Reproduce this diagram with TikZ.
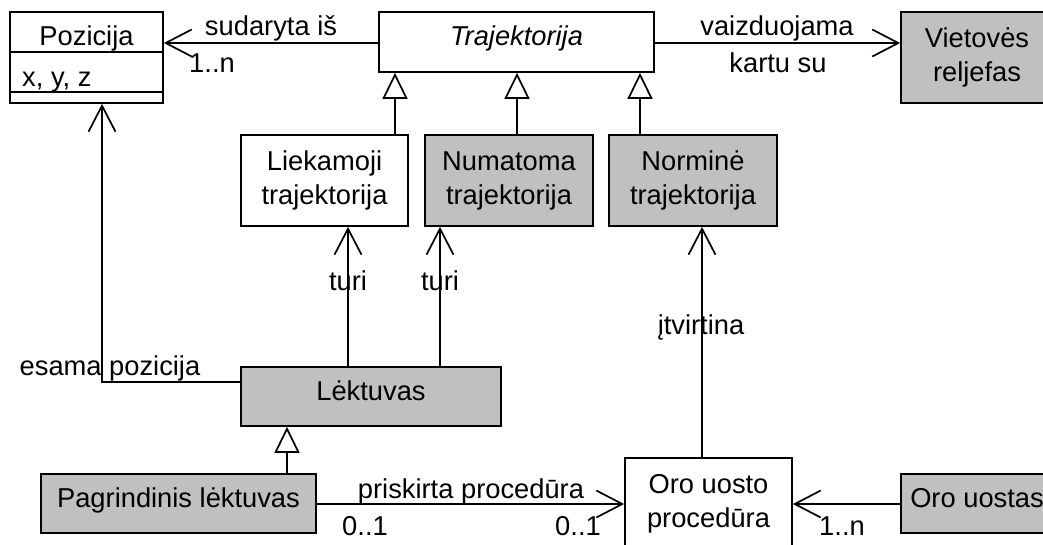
\documentclass[tikz,border=0pt]{standalone}
\usepackage{fontspec}
\setmainfont{Liberation Sans}
\usetikzlibrary{arrows.meta}
\definecolor{boxgray}{RGB}{192,192,192}
\newcommand\fs{\fontsize{27.3}{34}\selectfont}
\tikzset{
  box/.style={draw, line width=1.7pt, inner sep=0pt, align=center, font=\fs, rectangle},
  gbox/.style={box, fill=boxgray},
  oneline/.style={text height=19.5pt, text depth=12.5pt},
  assoc/.style={draw, line width=1.7pt, -{Straight Barb[length=26pt,width=27pt,line width=1.7pt]}},
  gen/.style={draw, line width=1.7pt, -{Triangle[open,length=26pt,width=25pt,fill=white,line width=1.7pt]}},
  lbl/.style={font=\fs, inner sep=0pt}
}
\begin{document}
\begin{tikzpicture}[x=1pt,y=-1pt]
\useasboundingbox (0,0) rectangle (1043,544);
% boxes
\node[box, minimum width=153pt, minimum height=91pt] (poz) at (86.5,57.5) {};
\node[lbl, anchor=base] (pozt) at (86.5,45) {Pozicija};
\node[lbl, anchor=base west] (poza) at (22,86) {x, y, z};
\coordinate (d1) at (0,52);
\coordinate (d2) at (0,92);
\draw[line width=1.7pt] (poz.west |- d1) -- (poz.east |- d1);
\draw[line width=1.7pt] (poz.west |- d2) -- (poz.east |- d2);

\node[box, oneline, minimum width=275pt, minimum height=60pt, font=\fs\itshape] (traj) at (516.5,42) {Trajektorija};
\node[gbox, minimum width=152pt, minimum height=91pt] (viet) at (977,57.5) {Vietovės\\reljefas};
\node[box, minimum width=167pt, minimum height=91pt] (liek) at (324.5,180.5) {Liekamoji\\trajektorija};
\node[gbox, minimum width=168pt, minimum height=91pt] (num) at (509,180.5) {Numatoma\\trajektorija};
\node[gbox, minimum width=168pt, minimum height=91pt] (norm) at (693,180.5) {Norminė\\trajektorija};
\node[gbox, oneline, minimum width=260pt, minimum height=59pt] (lekt) at (371,396.5) {Lėktuvas};
\node[gbox, oneline, minimum width=275pt, minimum height=59pt] (pagr) at (178.5,503.5) {Pagrindinis lėktuvas};
\node[box, minimum width=167pt, minimum height=91pt] (oup) at (708.5,503.5) {Oro uosto\\procedūra};
\node[gbox, oneline, minimum width=152pt, minimum height=59pt] (ous) at (977,503.5) {Oro uostas};

% helper coordinates
\coordinate (a1) at (0,43);
\coordinate (g1) at (395,0);
\coordinate (g2) at (517,0);
\coordinate (g3) at (640,0);
\coordinate (t1) at (348,0);
\coordinate (t2) at (440,0);
\coordinate (ep) at (102,382);
\coordinate (gp) at (287,0);
\coordinate (it) at (702,0);
\coordinate (a2) at (0,504);

% associations top
\draw[assoc] (traj.west |- a1) -- (poz.east |- a1);
\node[lbl] (l1) at (271,28) {sudaryta iš};
\node[lbl, anchor=base] (l2) at (212,72) {1..n};
\draw[assoc] (traj.east |- a1) -- (viet.west |- a1);
\node[lbl] (l3) at (777,28) {vaizduojama};
\node[lbl] (l4) at (778,63) {kartu su};

% generalizations
\draw[gen] (liek.north -| g1) -- (traj.south -| g1);
\draw[gen] (num.north -| g2) -- (traj.south -| g2);
\draw[gen] (norm.north -| g3) -- (traj.south -| g3);
\draw[gen] (pagr.north -| gp) -- (lekt.south -| gp);

% turi
\draw[assoc] (lekt.north -| t1) -- (liek.south -| t1);
\draw[assoc] (lekt.north -| t2) -- (num.south -| t2);
\node[lbl, anchor=base] (l5) at (348,290) {turi};
\node[lbl, anchor=base] (l6) at (440,290) {turi};

% esama pozicija
\draw[assoc] (lekt.west |- ep) -- (ep) -- (poz.south -| ep);
\node[lbl, anchor=base] (l7) at (110,375) {esama pozicija};

% itvirtina
\draw[assoc] (oup.north -| it) -- (norm.south -| it);
\node[lbl, anchor=base] (l8) at (701,334) {įtvirtina};

% bottom associations
\draw[assoc] (pagr.east |- a2) -- (oup.west |- a2);
\node[lbl, anchor=base] (l9) at (471,498) {priskirta procedūra};
\node[lbl, anchor=base] (l10) at (365,535) {0..1};
\node[lbl, anchor=base] (l11) at (578,535) {0..1};
\draw[assoc] (ous.west |- a2) -- (oup.east |- a2);
\node[lbl, anchor=base] (l12) at (842,535) {1..n};
\end{tikzpicture}
\end{document}
